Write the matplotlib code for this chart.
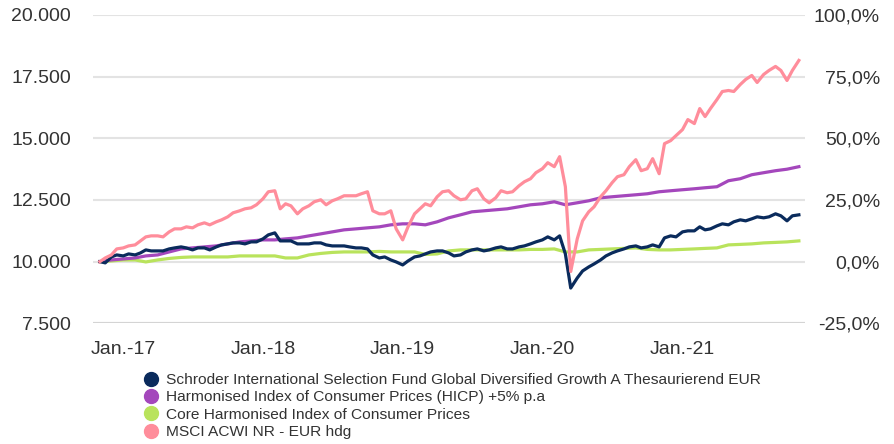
import matplotlib
matplotlib.use("Agg")
import matplotlib.pyplot as plt
from matplotlib.lines import Line2D
import pandas as pd
import numpy as np

# ---------------- data ----------------
dates_semi = pd.date_range("2016-11-01", "2021-11-01", freq="SMS")   # 1st & 15th of each month
dates_month = pd.date_range("2016-11-01", "2021-11-01", freq="MS")

fund = [10000, 9950, 10191, 10272, 10232, 10313, 10272, 10354, 10476, 10435,
        10435, 10435, 10516, 10557, 10598, 10557, 10476, 10557, 10557, 10476,
        10598, 10679, 10720, 10760, 10760, 10720, 10801, 10801, 10923, 11085,
        11167, 10841, 10841, 10841, 10720, 10720, 10720, 10760, 10760, 10679,
        10638, 10638, 10638, 10598, 10557, 10557, 10516, 10272, 10150, 10191,
        10069, 9988, 9866, 10028, 10191, 10232, 10313, 10394, 10435, 10435,
        10354, 10232, 10272, 10394, 10476, 10516, 10435, 10476, 10557, 10598,
        10516, 10516, 10598, 10638, 10720, 10801, 10882, 11004, 10882, 11045,
        10313, 8930, 9337, 9622, 9785, 9907, 10069, 10232, 10354, 10435,
        10516, 10598, 10638, 10557, 10598, 10679, 10598, 10963, 11045, 11004,
        11207, 11248, 11248, 11411, 11289, 11329, 11451, 11533, 11492, 11614,
        11695, 11654, 11736, 11817, 11776, 11817, 11939, 11858, 11654, 11858,
        11898]

msci = [10000, 10150, 10272, 10516, 10557, 10638, 10679, 10841, 11004, 11045,
        11045, 11004, 11207, 11329, 11329, 11411, 11370, 11492, 11573, 11492,
        11614, 11695, 11817, 11980, 12061, 12142, 12183, 12305, 12549, 12833,
        12874, 12142, 12346, 12264, 11939, 12142, 12264, 12427, 12508, 12305,
        12467, 12549, 12671, 12671, 12671, 12752, 12833, 12061, 11939, 11939,
        12061, 11329, 10882, 11411, 11939, 12142, 12346, 12264, 12630, 12833,
        12874, 12671, 12508, 12549, 12874, 12955, 12549, 12386, 12589, 12874,
        12793, 12833, 13077, 13240, 13362, 13606, 13768, 14012, 13850, 14256,
        13037, 9600, 10923, 11654, 12020, 12224, 12630, 12874, 13199, 13443,
        13524, 13850, 14134, 13687, 13768, 14175, 13565, 14785, 14906, 15110,
        15354, 15760, 15598, 16207, 15882, 16207, 16573, 16898, 16939, 16898,
        17183, 17386, 17549, 17264, 17589, 17752, 17915, 17752, 17345, 17752,
        18158]

hicp_plus5 = [10000, 10069, 10110, 10150, 10232, 10272, 10394, 10516, 10557, 10598,
              10638, 10720, 10801, 10841, 10882, 10882, 10923, 10963, 11045, 11126,
              11207, 11289, 11329, 11370, 11411, 11492, 11533, 11533, 11492, 11614,
              11776, 11898, 12020, 12061, 12102, 12142, 12224, 12305, 12346, 12427,
              12305, 12386, 12467, 12589, 12630, 12671, 12711, 12752, 12833, 12874,
              12915, 12955, 12996, 13037, 13280, 13362, 13524, 13606, 13687, 13748,
              13850]

core_hicp = [10000, 10028, 10069, 10069, 9988, 10069, 10130, 10171, 10191, 10191,
             10191, 10191, 10232, 10232, 10232, 10232, 10150, 10150, 10272, 10333,
             10374, 10394, 10394, 10394, 10415, 10394, 10394, 10394, 10293, 10313,
             10435, 10476, 10476, 10476, 10476, 10476, 10476, 10496, 10496, 10516,
             10394, 10394, 10476, 10496, 10516, 10537, 10557, 10496, 10476, 10476,
             10496, 10516, 10537, 10557, 10679, 10699, 10720, 10760, 10780, 10801,
             10841]

labels = [
    "Schroder International Selection Fund Global Diversified Growth A Thesaurierend EUR",
    "Harmonised Index of Consumer Prices (HICP) +5% p.a",
    "Core Harmonised Index of Consumer Prices",
    "MSCI ACWI NR - EUR hdg",
]
colors = ["#0a2b5c", "#a447bc", "#b9e35c", "#ff8d9b"]

y_ticks = [7500, 10000, 12500, 15000, 17500, 20000]
y_ticklabels = ["7.500", "10.000", "12.500", "15.000", "17.500", "20.000"]
y2_ticklabels = ["-25,0%", "0,0%", "25,0%", "50,0%", "75,0%", "100,0%"]
x_ticks = pd.to_datetime(["2017-01-01", "2018-01-01", "2019-01-01", "2020-01-01", "2021-01-01"])
x_ticklabels = ["Jan.-17", "Jan.-18", "Jan.-19", "Jan.-20", "Jan.-21"]

# ---------------- plot ----------------
plt.rcParams["font.family"] = ["Liberation Sans", "DejaVu Sans"]
fig = plt.figure(figsize=(8.95, 4.44), dpi=100)
W, H = 895, 444
ax = fig.add_axes([93 / W, 1 - 323.3 / H, 712 / W, (323.3 - 15) / H])

lw = 2.3
ax.plot(dates_month, core_hicp, color=colors[2], lw=lw, zorder=3, solid_joinstyle="round")
ax.plot(dates_month, hicp_plus5, color=colors[1], lw=lw, zorder=4, solid_joinstyle="round")
ax.plot(dates_semi, fund, color=colors[0], lw=lw, zorder=5, solid_joinstyle="round")
ax.plot(dates_semi, msci, color=colors[3], lw=lw, zorder=6, solid_joinstyle="round")

ax.set_ylim(7500, 20000)
ax.set_xlim(pd.Timestamp("2016-11-01") - pd.Timedelta(days=18),
            pd.Timestamp("2021-11-01") + pd.Timedelta(days=16))
ax.set_yticks(y_ticks)
ax.set_yticklabels(y_ticklabels)
ax.set_xticks(x_ticks)
ax.set_xticklabels(x_ticklabels)
ax.grid(axis="y", color="#e3e3e3", lw=1.5)
ax.set_axisbelow(True)
ax.axhline(7500, color="#d4d4d4", lw=1.5, zorder=1)
for s in ax.spines.values():
    s.set_visible(False)
ax.tick_params(axis="both", length=0, labelsize=14, colors="#333333")
ax.tick_params(axis="y", pad=16)
ax.tick_params(axis="x", pad=13)

ax2 = ax.twinx()
ax2.set_ylim(7500, 20000)
ax2.set_yticks(y_ticks)
ax2.set_yticklabels(y2_ticklabels)
for s in ax2.spines.values():
    s.set_visible(False)
ax2.tick_params(axis="y", length=0, labelsize=14, colors="#333333", pad=54)
for t in ax2.get_yticklabels():
    t.set_horizontalalignment("right")

handles = [Line2D([], [], marker="o", ls="none", markersize=10, color=c) for c in colors]
fig.legend(handles, labels, loc="upper left", bbox_to_anchor=(145 / W, 1 - 373 / H),
           frameon=False, fontsize=11.15, handlelength=0.8, handletextpad=0.55,
           labelspacing=0.22, borderaxespad=0, borderpad=0, labelcolor="#333333")

fig.savefig("out.png", dpi=100)
